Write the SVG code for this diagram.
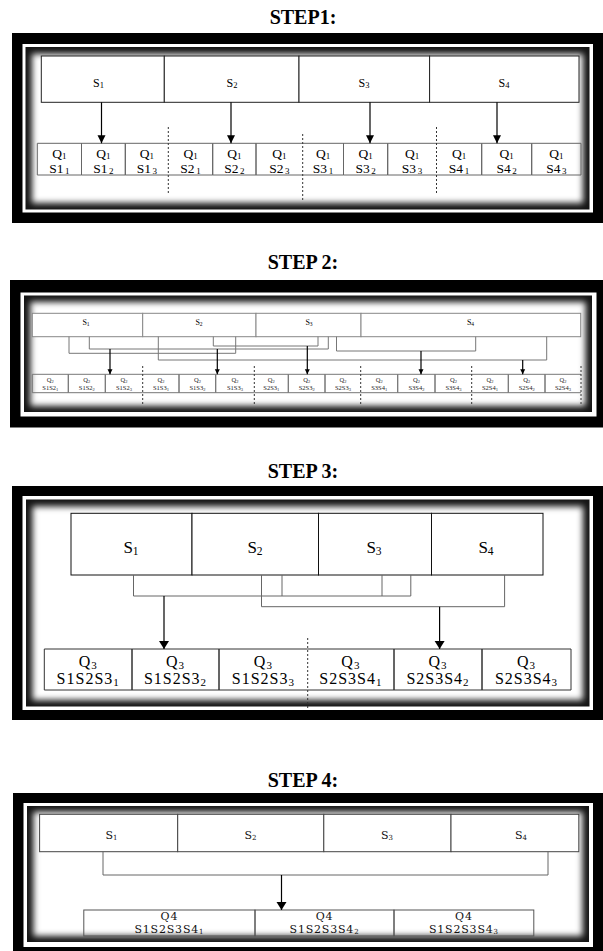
<svg xmlns="http://www.w3.org/2000/svg" width="603" height="951" viewBox="0 0 603 951">
  <style>
    .serif { font-family: "Liberation Serif", "Times New Roman", serif; fill: #000; }
    .wide { font-family: "DejaVu Serif", "Liberation Serif", serif; fill: #111; }
    .title { font-weight: bold; font-size: 20px; text-anchor: middle; }
    .mid { text-anchor: middle; }
    .s1 { font-size: 12px; }
    .q1 { font-size: 13.5px; }
    .s2 { font-size: 8px; }
    .q2 { font-size: 6.5px; fill: #222; }
    .s3 { font-size: 17px; }
    .q3 { font-size: 16px; letter-spacing: 1px; }
    .s4 { font-size: 11px; }
    .q4 { font-size: 11px; letter-spacing: 0.8px; }
    .box1 { fill: #fff; stroke: #222; stroke-width: 1; }
    .qb1 { fill: none; stroke: #666; stroke-width: 1; }
    .box2 { fill: #fff; stroke: #888; stroke-width: 1; }
    .qb2 { fill: none; stroke: #777; stroke-width: 1; }
    .box3 { fill: #fff; stroke: #111; stroke-width: 1; }
    .qb3 { fill: none; stroke: #333; stroke-width: 1; }
    .box4 { fill: #fff; stroke: #444; stroke-width: 1; }
    .qb4 { fill: none; stroke: #555; stroke-width: 1; }
    .link { fill: none; stroke: #777; stroke-width: 1; }
    .link3 { fill: none; stroke: #666; stroke-width: 1; }
    .arrow { fill: none; stroke: #000; stroke-width: 1.2; }
    .dash { stroke: #333; stroke-width: 1; stroke-dasharray: 2 2; }
    .black { fill: #000; }
    .ring { fill: #fff; }
    .dark { fill: #141414; }
    .inner { fill: #fff; filter: url(#soft); }
  </style>
  <defs>
    <filter id="soft" x="-10%" y="-20%" width="120%" height="140%">
      <feGaussianBlur stdDeviation="3"/>
    </filter>
    <marker id="headL" markerUnits="userSpaceOnUse" markerWidth="9" markerHeight="9" refX="8" refY="4.5" orient="auto">
      <path d="M0,0.5 L8,4.5 L0,8.5 Z" fill="#000"/>
    </marker>
    <marker id="headS" markerUnits="userSpaceOnUse" markerWidth="6" markerHeight="6" refX="5" refY="3" orient="auto">
      <path d="M0,0.5 L5,3 L0,5.5 Z" fill="#000"/>
    </marker>
    <marker id="headX" markerUnits="userSpaceOnUse" markerWidth="10" markerHeight="11" refX="8" refY="5" orient="auto">
      <path d="M0,0 L8,5 L0,10 Z" fill="#000"/>
    </marker>
  </defs>

  <rect width="603" height="951" fill="#fff"/>

  <!-- ===================== STEP 1 ===================== -->
  <text class="serif title" x="303" y="24">STEP1:</text>
  <g id="frame1">
    <rect class="black" x="12" y="33" width="591" height="190"/>
    <rect class="ring" x="22.5" y="44" width="570.5" height="168.5"/>
    <rect class="dark" x="25.5" y="47" width="564" height="162.5"/>
    <rect class="inner" x="32" y="54" width="551" height="149"/>
  </g>
  <g id="step1-sources">
    <g id="s1-S1"><rect class="box1" x="41.3" y="56" width="123" height="46.3"/><text class="serif s1 mid" x="98.5" y="86.5">S<tspan font-size="8.5" dy="1.5">1</tspan></text></g>
    <g id="s1-S2"><rect class="box1" x="164.3" y="56" width="134.7" height="46.3"/><text class="serif s1 mid" x="232" y="86.5">S<tspan font-size="8.5" dy="1.5">2</tspan></text></g>
    <g id="s1-S3"><rect class="box1" x="299" y="56" width="130.6" height="46.3"/><text class="serif s1 mid" x="364" y="86.5">S<tspan font-size="8.5" dy="1.5">3</tspan></text></g>
    <g id="s1-S4"><rect class="box1" x="429.6" y="56" width="149.4" height="46.3"/><text class="serif s1 mid" x="504" y="86.5">S<tspan font-size="8.5" dy="1.5">4</tspan></text></g>
  </g>
  <g id="step1-queries">
    <g id="q1-S1-1"><path class="qb1" d="M37.3,143.3 H81.5 V175 H37.3 Z"/><text class="serif q1 mid" x="59.4" y="158.3">Q<tspan font-size="9" dy="1">1</tspan></text><text class="serif q1 mid" x="59.4" y="172.5">S1<tspan font-size="9" dx="1.5" dy="1">1</tspan></text></g>
    <g id="q1-S1-2"><path class="qb1" d="M81.5,143.3 H125.3 V175 H81.5 Z"/><text class="serif q1 mid" x="103.4" y="158.3">Q<tspan font-size="9" dy="1">1</tspan></text><text class="serif q1 mid" x="103.4" y="172.5">S1<tspan font-size="9" dx="1.5" dy="1">2</tspan></text></g>
    <g id="q1-S1-3"><path class="qb1" d="M168.3,143.3 H125.3 V175 H168.3"/><text class="serif q1 mid" x="146.8" y="158.3">Q<tspan font-size="9" dy="1">1</tspan></text><text class="serif q1 mid" x="146.8" y="172.5">S1<tspan font-size="9" dx="1.5" dy="1">3</tspan></text></g>
    <g id="q1-S2-1"><path class="qb1" d="M168.3,143.3 H212.7 V175 H168.3"/><text class="serif q1 mid" x="190.5" y="158.3">Q<tspan font-size="9" dy="1">1</tspan></text><text class="serif q1 mid" x="190.5" y="172.5">S2<tspan font-size="9" dx="1.5" dy="1">1</tspan></text></g>
    <g id="q1-S2-2"><path class="qb1" d="M212.7,143.3 H256 V175 H212.7 Z"/><text class="serif q1 mid" x="234.3" y="158.3">Q<tspan font-size="9" dy="1">1</tspan></text><text class="serif q1 mid" x="234.3" y="172.5">S2<tspan font-size="9" dx="1.5" dy="1">2</tspan></text></g>
    <g id="q1-S2-3"><path class="qb1" d="M302.7,143.3 H256 V175 H302.7"/><text class="serif q1 mid" x="279.3" y="158.3">Q<tspan font-size="9" dy="1">1</tspan></text><text class="serif q1 mid" x="279.3" y="172.5">S2<tspan font-size="9" dx="1.5" dy="1">3</tspan></text></g>
    <g id="q1-S3-1"><path class="qb1" d="M302.7,143.3 H343.5 V175 H302.7"/><text class="serif q1 mid" x="323" y="158.3">Q<tspan font-size="9" dy="1">1</tspan></text><text class="serif q1 mid" x="323" y="172.5">S3<tspan font-size="9" dx="1.5" dy="1">1</tspan></text></g>
    <g id="q1-S3-2"><path class="qb1" d="M343.5,143.3 H387.7 V175 H343.5 Z"/><text class="serif q1 mid" x="365.6" y="158.3">Q<tspan font-size="9" dy="1">1</tspan></text><text class="serif q1 mid" x="365.6" y="172.5">S3<tspan font-size="9" dx="1.5" dy="1">2</tspan></text></g>
    <g id="q1-S3-3"><path class="qb1" d="M436.5,143.3 H387.7 V175 H436.5"/><text class="serif q1 mid" x="412" y="158.3">Q<tspan font-size="9" dy="1">1</tspan></text><text class="serif q1 mid" x="412" y="172.5">S3<tspan font-size="9" dx="1.5" dy="1">3</tspan></text></g>
    <g id="q1-S4-1"><path class="qb1" d="M436.5,143.3 H481.7 V175 H436.5"/><text class="serif q1 mid" x="459" y="158.3">Q<tspan font-size="9" dy="1">1</tspan></text><text class="serif q1 mid" x="459" y="172.5">S4<tspan font-size="9" dx="1.5" dy="1">1</tspan></text></g>
    <g id="q1-S4-2"><path class="qb1" d="M481.7,143.3 H531.7 V175 H481.7 Z"/><text class="serif q1 mid" x="506.7" y="158.3">Q<tspan font-size="9" dy="1">1</tspan></text><text class="serif q1 mid" x="506.7" y="172.5">S4<tspan font-size="9" dx="1.5" dy="1">2</tspan></text></g>
    <g id="q1-S4-3"><path class="qb1" d="M531.7,143.3 H581 V175 H531.7 Z"/><text class="serif q1 mid" x="556.3" y="158.3">Q<tspan font-size="9" dy="1">1</tspan></text><text class="serif q1 mid" x="556.3" y="172.5">S4<tspan font-size="9" dx="1.5" dy="1">3</tspan></text></g>
  </g>
  <g id="step1-separators">
    <line class="dash" x1="168.3" y1="127" x2="168.3" y2="195"/>
    <line class="dash" x1="302.7" y1="134" x2="302.7" y2="202"/>
    <line class="dash" x1="436.5" y1="127" x2="436.5" y2="195"/>
  </g>
  <g id="step1-connectors">
    <line class="arrow" x1="101.5" y1="102.3" x2="101.5" y2="143.3" marker-end="url(#headL)"/>
    <line class="arrow" x1="231" y1="102.3" x2="231" y2="143.3" marker-end="url(#headL)"/>
    <line class="arrow" x1="370" y1="102.3" x2="370" y2="143.3" marker-end="url(#headL)"/>
    <line class="arrow" x1="497" y1="102.3" x2="497" y2="143.3" marker-end="url(#headL)"/>
  </g>

  <!-- ===================== STEP 2 ===================== -->
  <text class="serif title" x="303" y="269">STEP 2:</text>
  <g id="frame2">
    <rect class="black" x="10" y="280" width="593" height="147.5"/>
    <rect class="ring" x="20.5" y="292.5" width="576" height="124"/>
    <rect class="dark" x="24" y="295.5" width="568" height="116.5"/>
    <rect class="inner" x="30.5" y="302" width="555" height="104"/>
  </g>
  <g id="step2-sources">
    <g id="s2-S1"><rect class="box2" x="32.3" y="313.3" width="110.4" height="23.4"/><text class="serif s2 mid" x="86" y="324.5">S<tspan font-size="5.5" dy="1">1</tspan></text></g>
    <g id="s2-S2"><rect class="box2" x="142.7" y="313.3" width="113.3" height="23.4"/><text class="serif s2 mid" x="199" y="324.5">S<tspan font-size="5.5" dy="1">2</tspan></text></g>
    <g id="s2-S3"><rect class="box2" x="256" y="313.3" width="105" height="23.4"/><text class="serif s2 mid" x="309" y="324.5">S<tspan font-size="5.5" dy="1">3</tspan></text></g>
    <g id="s2-S4"><rect class="box2" x="361" y="313.3" width="219.7" height="23.4"/><text class="serif s2 mid" x="470.5" y="324.5">S<tspan font-size="5.5" dy="1">4</tspan></text></g>
  </g>
  <g id="step2-queries">
    <g id="q2-S1S2-1"><path class="qb2" d="M32.3,374.3 H68.3 V392.7 H32.3 Z"/><text class="serif q2 mid" x="50.3" y="381.5">Q<tspan font-size="4.5" dy="1">2</tspan></text><text class="serif q2 mid" x="50.3" y="390.3">S1S2<tspan font-size="4.5" dy="1">1</tspan></text></g>
    <g id="q2-S1S2-2"><path class="qb2" d="M68.3,374.3 H105.3 V392.7 H68.3 Z"/><text class="serif q2 mid" x="86.8" y="381.5">Q<tspan font-size="4.5" dy="1">2</tspan></text><text class="serif q2 mid" x="86.8" y="390.3">S1S2<tspan font-size="4.5" dy="1">2</tspan></text></g>
    <g id="q2-S1S2-3"><path class="qb2" d="M142.7,374.3 H105.3 V392.7 H142.7"/><text class="serif q2 mid" x="124" y="381.5">Q<tspan font-size="4.5" dy="1">2</tspan></text><text class="serif q2 mid" x="124" y="390.3">S1S2<tspan font-size="4.5" dy="1">3</tspan></text></g>
    <g id="q2-S1S3-1"><path class="qb2" d="M142.7,374.3 H179 V392.7 H142.7"/><text class="serif q2 mid" x="160.9" y="381.5">Q<tspan font-size="4.5" dy="1">2</tspan></text><text class="serif q2 mid" x="160.9" y="390.3">S1S3<tspan font-size="4.5" dy="1">1</tspan></text></g>
    <g id="q2-S1S3-2"><path class="qb2" d="M179,374.3 H215.7 V392.7 H179 Z"/><text class="serif q2 mid" x="197.4" y="381.5">Q<tspan font-size="4.5" dy="1">2</tspan></text><text class="serif q2 mid" x="197.4" y="390.3">S1S3<tspan font-size="4.5" dy="1">2</tspan></text></g>
    <g id="q2-S1S3-3"><path class="qb2" d="M254.3,374.3 H215.7 V392.7 H254.3"/><text class="serif q2 mid" x="235" y="381.5">Q<tspan font-size="4.5" dy="1">2</tspan></text><text class="serif q2 mid" x="235" y="390.3">S1S3<tspan font-size="4.5" dy="1">3</tspan></text></g>
    <g id="q2-S2S3-1"><path class="qb2" d="M254.3,374.3 H288.3 V392.7 H254.3"/><text class="serif q2 mid" x="271.3" y="381.5">Q<tspan font-size="4.5" dy="1">2</tspan></text><text class="serif q2 mid" x="271.3" y="390.3">S2S3<tspan font-size="4.5" dy="1">1</tspan></text></g>
    <g id="q2-S2S3-2"><path class="qb2" d="M288.3,374.3 H325 V392.7 H288.3 Z"/><text class="serif q2 mid" x="306.7" y="381.5">Q<tspan font-size="4.5" dy="1">2</tspan></text><text class="serif q2 mid" x="306.7" y="390.3">S2S3<tspan font-size="4.5" dy="1">2</tspan></text></g>
    <g id="q2-S2S3-3"><path class="qb2" d="M360.7,374.3 H325 V392.7 H360.7"/><text class="serif q2 mid" x="342.9" y="381.5">Q<tspan font-size="4.5" dy="1">2</tspan></text><text class="serif q2 mid" x="342.9" y="390.3">S2S3<tspan font-size="4.5" dy="1">3</tspan></text></g>
    <g id="q2-S3S4-1"><path class="qb2" d="M360.7,374.3 H397.7 V392.7 H360.7"/><text class="serif q2 mid" x="379.2" y="381.5">Q<tspan font-size="4.5" dy="1">2</tspan></text><text class="serif q2 mid" x="379.2" y="390.3">S3S4<tspan font-size="4.5" dy="1">1</tspan></text></g>
    <g id="q2-S3S4-2"><path class="qb2" d="M397.7,374.3 H435 V392.7 H397.7 Z"/><text class="serif q2 mid" x="416.4" y="381.5">Q<tspan font-size="4.5" dy="1">2</tspan></text><text class="serif q2 mid" x="416.4" y="390.3">S3S4<tspan font-size="4.5" dy="1">2</tspan></text></g>
    <g id="q2-S3S4-3"><path class="qb2" d="M471.7,374.3 H435 V392.7 H471.7"/><text class="serif q2 mid" x="453.4" y="381.5">Q<tspan font-size="4.5" dy="1">2</tspan></text><text class="serif q2 mid" x="453.4" y="390.3">S3S4<tspan font-size="4.5" dy="1">3</tspan></text></g>
    <g id="q2-S2S4-1"><path class="qb2" d="M471.7,374.3 H508.3 V392.7 H471.7"/><text class="serif q2 mid" x="490" y="381.5">Q<tspan font-size="4.5" dy="1">2</tspan></text><text class="serif q2 mid" x="490" y="390.3">S2S4<tspan font-size="4.5" dy="1">1</tspan></text></g>
    <g id="q2-S2S4-2"><path class="qb2" d="M508.3,374.3 H545 V392.7 H508.3 Z"/><text class="serif q2 mid" x="526.7" y="381.5">Q<tspan font-size="4.5" dy="1">2</tspan></text><text class="serif q2 mid" x="526.7" y="390.3">S2S4<tspan font-size="4.5" dy="1">2</tspan></text></g>
    <g id="q2-S2S4-3"><path class="qb2" d="M581,374.3 H545 V392.7 H581"/><text class="serif q2 mid" x="563" y="381.5">Q<tspan font-size="4.5" dy="1">2</tspan></text><text class="serif q2 mid" x="563" y="390.3">S2S4<tspan font-size="4.5" dy="1">3</tspan></text></g>
  </g>
  <g id="step2-separators">
    <line class="dash" x1="142.7" y1="366" x2="142.7" y2="404"/>
    <line class="dash" x1="254.3" y1="366" x2="254.3" y2="404"/>
    <line class="dash" x1="360.7" y1="366" x2="360.7" y2="404"/>
    <line class="dash" x1="471.7" y1="366" x2="471.7" y2="404"/>
    <line class="dash" x1="581" y1="366" x2="581" y2="404"/>
  </g>
  <g id="step2-connectors">
    <path class="link" d="M69,336.7 V353.3 H235.7 V336.7"/>
    <path class="link" d="M89.3,336.7 V349 H328.3 V336.7"/>
    <path class="link" d="M213.3,336.7 V346 H318 V336.7"/>
    <path class="link" d="M336.5,336.7 V351 H475.7 V336.7"/>
    <path class="link" d="M158.3,336.7 V360 H546.7 V336.7"/>
    <line class="arrow" x1="110" y1="349" x2="110" y2="374.3" marker-end="url(#headS)"/>
    <line class="arrow" x1="217.3" y1="349" x2="217.3" y2="374.3" marker-end="url(#headS)"/>
    <line class="arrow" x1="307.3" y1="346" x2="307.3" y2="374.3" marker-end="url(#headS)"/>
    <line class="arrow" x1="421" y1="351" x2="421" y2="374.3" marker-end="url(#headS)"/>
    <line class="arrow" x1="522.7" y1="360" x2="522.7" y2="374.3" marker-end="url(#headS)"/>
  </g>

  <!-- ===================== STEP 3 ===================== -->
  <text class="serif title" x="303" y="478">STEP 3:</text>
  <g id="frame3">
    <rect class="black" x="12" y="486" width="591" height="234"/>
    <rect class="ring" x="22.5" y="496" width="570.5" height="214"/>
    <rect class="dark" x="26" y="499.5" width="563.5" height="207"/>
    <rect class="inner" x="32.5" y="506.5" width="550.5" height="193.5"/>
  </g>
  <g id="step3-sources">
    <g id="s3-S1"><rect class="box3" x="71" y="513.3" width="121" height="61.7"/><text class="serif s3 mid" x="131" y="553.3">S<tspan font-size="11.5" dy="2">1</tspan></text></g>
    <g id="s3-S2"><rect class="box3" x="192" y="513.3" width="126.5" height="61.7"/><text class="serif s3 mid" x="255" y="553.3">S<tspan font-size="11.5" dy="2">2</tspan></text></g>
    <g id="s3-S3"><rect class="box3" x="318.5" y="513.3" width="113" height="61.7"/><text class="serif s3 mid" x="374" y="553.3">S<tspan font-size="11.5" dy="2">3</tspan></text></g>
    <g id="s3-S4"><rect class="box3" x="431.5" y="513.3" width="111.5" height="61.7"/><text class="serif s3 mid" x="486" y="553.3">S<tspan font-size="11.5" dy="2">4</tspan></text></g>
  </g>
  <g id="step3-queries">
    <g id="q3-S1S2S3-1"><path class="qb3" d="M44.3,649 H132 V690 H44.3 Z"/><text class="serif q3 mid" x="88.2" y="666.5">Q<tspan font-size="11" dy="2">3</tspan></text><text class="serif q3 mid" x="88.2" y="684">S1S2S3<tspan font-size="11" dy="2">1</tspan></text></g>
    <g id="q3-S1S2S3-2"><path class="qb3" d="M132,649 H219 V690 H132 Z"/><text class="serif q3 mid" x="175.5" y="666.5">Q<tspan font-size="11" dy="2">3</tspan></text><text class="serif q3 mid" x="175.5" y="684">S1S2S3<tspan font-size="11" dy="2">2</tspan></text></g>
    <g id="q3-S1S2S3-3"><path class="qb3" d="M307.7,649 H219 V690 H307.7"/><text class="serif q3 mid" x="263.4" y="666.5">Q<tspan font-size="11" dy="2">3</tspan></text><text class="serif q3 mid" x="263.4" y="684">S1S2S3<tspan font-size="11" dy="2">3</tspan></text></g>
    <g id="q3-S2S3S4-1"><path class="qb3" d="M307.7,649 H394 V690 H307.7"/><text class="serif q3 mid" x="350.9" y="666.5">Q<tspan font-size="11" dy="2">3</tspan></text><text class="serif q3 mid" x="350.9" y="684">S2S3S4<tspan font-size="11" dy="2">1</tspan></text></g>
    <g id="q3-S2S3S4-2"><path class="qb3" d="M394,649 H482 V690 H394 Z"/><text class="serif q3 mid" x="438" y="666.5">Q<tspan font-size="11" dy="2">3</tspan></text><text class="serif q3 mid" x="438" y="684">S2S3S4<tspan font-size="11" dy="2">2</tspan></text></g>
    <g id="q3-S2S3S4-3"><path class="qb3" d="M482,649 H571 V690 H482 Z"/><text class="serif q3 mid" x="526.5" y="666.5">Q<tspan font-size="11" dy="2">3</tspan></text><text class="serif q3 mid" x="526.5" y="684">S2S3S4<tspan font-size="11" dy="2">3</tspan></text></g>
  </g>
  <g id="step3-separators">
    <line class="dash" x1="307.7" y1="638" x2="307.7" y2="708"/>
  </g>
  <g id="step3-connectors">
    <path class="link3" d="M133.5,575 V596 H410.8 V575"/>
    <path class="link3" d="M282,575 V596 M382,575 V596"/>
    <path class="link3" d="M261.5,575 V606.7 H504.6 V575"/>
    <line class="arrow" x1="164" y1="596" x2="164" y2="649" marker-end="url(#headX)"/>
    <line class="arrow" x1="439.6" y1="606.7" x2="439.6" y2="649" marker-end="url(#headX)"/>
  </g>

  <!-- ===================== STEP 4 ===================== -->
  <text class="serif title" x="303" y="787">STEP 4:</text>
  <g id="frame4">
    <rect class="black" x="13" y="793" width="590" height="170"/>
    <rect class="ring" x="23.5" y="803" width="569.5" height="144"/>
    <rect class="dark" x="27" y="806" width="562" height="136"/>
    <rect class="inner" x="33.5" y="812" width="549" height="124"/>
  </g>
  <g id="step4-sources">
    <g id="s4-S1"><rect class="box4" x="39.6" y="814.3" width="138.1" height="37.4"/><text class="wide s4 mid" x="111.5" y="838.5">S<tspan font-size="7" dy="1.5">1</tspan></text></g>
    <g id="s4-S2"><rect class="box4" x="177.7" y="814.3" width="146.1" height="37.4"/><text class="wide s4 mid" x="250.5" y="838.5">S<tspan font-size="7" dy="1.5">2</tspan></text></g>
    <g id="s4-S3"><rect class="box4" x="323.8" y="814.3" width="127.2" height="37.4"/><text class="wide s4 mid" x="387" y="838.5">S<tspan font-size="7" dy="1.5">3</tspan></text></g>
    <g id="s4-S4"><rect class="box4" x="451" y="814.3" width="127.8" height="37.4"/><text class="wide s4 mid" x="521" y="838.5">S<tspan font-size="7" dy="1.5">4</tspan></text></g>
  </g>
  <g id="step4-queries">
    <g id="q4-1"><rect class="qb4" x="83.8" y="910" width="171.2" height="26"/><text class="wide q4 mid" x="169.4" y="920">Q4</text><text class="wide q4 mid" x="169.4" y="932.5">S1S2S3S4<tspan font-size="7" dy="1">1</tspan></text></g>
    <g id="q4-2"><rect class="qb4" x="255" y="910" width="139" height="26"/><text class="wide q4 mid" x="324.5" y="920">Q4</text><text class="wide q4 mid" x="324.5" y="932.5">S1S2S3S4<tspan font-size="7" dy="1">2</tspan></text></g>
    <g id="q4-3"><rect class="qb4" x="394" y="910" width="139.8" height="26"/><text class="wide q4 mid" x="463.9" y="920">Q4</text><text class="wide q4 mid" x="463.9" y="932.5">S1S2S3S4<tspan font-size="7" dy="1">3</tspan></text></g>
  </g>
  <g id="step4-connectors">
    <path class="link3" d="M103,851.7 V875 H548 V851.7"/>
    <line class="arrow" x1="281.5" y1="875" x2="281.5" y2="910" marker-end="url(#headX)"/>
  </g>
</svg>
